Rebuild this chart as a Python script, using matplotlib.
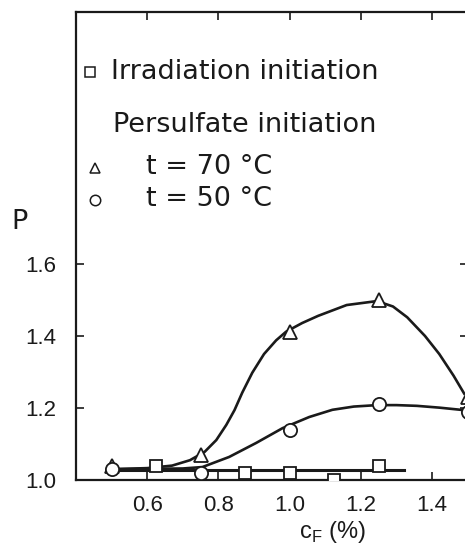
import matplotlib
matplotlib.use("Agg")
import matplotlib.pyplot as plt

# Measured points
tri_x = [0.5, 0.75, 1.0, 1.25, 1.5]
tri_y = [1.04, 1.07, 1.41, 1.50, 1.23]
circ_x = [0.5, 0.75, 1.0, 1.25, 1.5]
circ_y = [1.03, 1.02, 1.14, 1.21, 1.19]
sq_x = [0.625, 0.875, 1.0, 1.125, 1.25]
sq_y = [1.04, 1.02, 1.02, 1.0, 1.04]

# Hand drawn curves
tri_curve_x = [0.50, 0.60, 0.67, 0.72, 0.761, 0.794, 0.822, 0.845, 0.867, 0.895, 0.928, 0.962,
               0.99, 1.035, 1.08, 1.16, 1.245, 1.29, 1.33, 1.38, 1.42, 1.46, 1.49]
tri_curve_y = [1.03, 1.033, 1.04, 1.055, 1.078, 1.111, 1.153, 1.194, 1.243, 1.298, 1.350, 1.388,
               1.412, 1.436, 1.456, 1.486, 1.497, 1.482, 1.452, 1.40, 1.35, 1.29, 1.24]
circ_curve_x = [0.50, 0.60, 0.70, 0.755, 0.83, 0.906, 0.98, 1.055, 1.12, 1.18, 1.245, 1.30,
                1.357, 1.42, 1.49]
circ_curve_y = [1.03, 1.031, 1.032, 1.036, 1.064, 1.103, 1.144, 1.175, 1.195, 1.204, 1.208, 1.208,
                1.206, 1.201, 1.194]
sq_line_x = [0.5, 1.32]
sq_line_y = [1.028, 1.028]

xticks = [0.6, 0.8, 1.0, 1.2, 1.4]
xlabels = ["0.6", "0.8", "1.0", "1.2", "1.4"]
yticks = [1.0, 1.2, 1.4, 1.6]
ylabels = ["1.0", "1.2", "1.4", "1.6"]

W, H = 465, 546
fig = plt.figure(figsize=(W / 100, H / 100), dpi=100)
ax = fig.add_axes([76 / W, 1 - 480 / H, (467.75 - 76) / W, (480 - 12) / H])

ax.set_xlim(0.4, 1.5)
ax.set_ylim(1.0, 2.3)

lc = "#1a1a1a"
ax.plot(tri_curve_x, tri_curve_y, color=lc, lw=1.9, solid_joinstyle="round", clip_on=False)
ax.plot(circ_curve_x, circ_curve_y, color=lc, lw=1.9, solid_joinstyle="round", clip_on=False)
ax.plot(sq_line_x, sq_line_y, color=lc, lw=2.2)

mk = dict(ls="none", mfc="white", mec=lc, mew=1.3, zorder=3)
ax.plot(tri_x, tri_y, marker="^", ms=10, clip_on=False, **mk)
ax.plot(circ_x, circ_y, marker="o", ms=9.5, clip_on=False, **mk)
ax.plot(sq_x, sq_y, marker="s", ms=8.5, **mk)

for s in ax.spines.values():
    s.set_linewidth(1.6)
    s.set_color(lc)

tick_font = {"family": ["Liberation Sans", "DejaVu Sans"], "size": 16}
ax.set_xticks(xticks)
ax.set_xticklabels(xlabels, fontdict=tick_font)
ax.set_yticks(yticks)
ax.set_yticklabels(ylabels, fontdict=tick_font)
ax.tick_params(direction="in", length=6, width=1.2, color=lc, top=True, right=True,
               labelcolor=lc)
ax.tick_params(axis="x", pad=11)
ax.tick_params(axis="y", pad=14)

# legend written inside the plot (positions in figure pixels)
def fx(px):
    return px / W

def fy(py):
    return 1 - py / H

lmk = dict(mfc="white", mec=lc, mew=1.1, ls="none", transform=fig.transFigure, clip_on=False)
ax.plot([fx(90)], [fy(72)], marker="s", ms=7, **lmk)
ax.plot([fx(95)], [fy(168)], marker="^", ms=7.5, **lmk)
ax.plot([fx(95)], [fy(200)], marker="o", ms=7.5, **lmk)

lfont = {"family": ["DejaVu Sans"], "size": 19.5, "color": lc}
fig.text(fx(111), fy(72), "Irradiation initiation", va="center", ha="left", **lfont)
fig.text(fx(113), fy(125), "Persulfate initiation", va="center", ha="left", **lfont)
fig.text(fx(146), fy(167), "t = 70 °C", va="center", ha="left", **lfont)
fig.text(fx(146), fy(199), "t = 50 °C", va="center", ha="left", **lfont)

fig.text(fx(19), fy(222), "P", va="center", ha="center", **lfont)
fig.text(fx(332), fy(532), "c$_\\mathregular{F}$ (%)", va="center", ha="center",
         family=["Liberation Sans", "DejaVu Sans"], size=17, color=lc)

fig.savefig("out.png", dpi=100, facecolor="white")
